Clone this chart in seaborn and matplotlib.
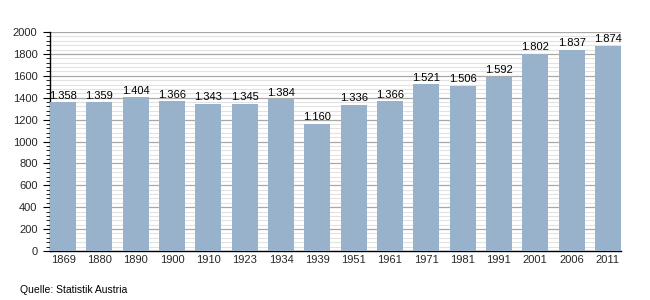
import matplotlib
matplotlib.use("Agg")
import matplotlib.pyplot as plt
import seaborn as sns
import pandas as pd
from matplotlib.ticker import MultipleLocator

years = ["1869", "1880", "1890", "1900", "1910", "1923", "1934", "1939",
         "1951", "1961", "1971", "1981", "1991", "2001", "2006", "2011"]
population = [1358, 1359, 1404, 1366, 1343, 1345, 1384, 1160,
              1336, 1366, 1521, 1506, 1592, 1802, 1837, 1874]
value_labels = ["1.358", "1.359", "1.404", "1.366", "1.343", "1.345", "1.384", "1.160",
                "1.336", "1.366", "1.521", "1.506", "1.592", "1.802", "1.837", "1.874"]

df = pd.DataFrame({"year": years, "pop": population})

sns.set_theme(style="white")
plt.rcParams["font.family"] = ["Liberation Sans", "DejaVu Sans"]

fig = plt.figure(figsize=(6.5, 3.0), dpi=100)
ax = fig.add_axes([50/650, 49/300, 571/650, 219/300])

sns.barplot(data=df, x="year", y="pop", color="#98b2cb", saturation=1,
            width=0.72, ax=ax, zorder=3, linewidth=0, edgecolor="none")

ax.set_xlim(-0.36, len(years) - 1 + 0.36)
ax.set_ylim(0, 2000)
ax.yaxis.set_major_locator(MultipleLocator(200))
ax.yaxis.set_minor_locator(MultipleLocator(40))
ax.grid(axis="y", which="major", color="#a8a8a8", linewidth=0.9, zorder=0)
ax.grid(axis="y", which="minor", color="#e2e2e2", linewidth=0.8, zorder=0)
ax.set_axisbelow(True)

for s in ["top", "right"]:
    ax.spines[s].set_visible(False)
for s in ["left", "bottom"]:
    ax.spines[s].set_color("black")
    ax.spines[s].set_linewidth(1.0)

ax.tick_params(axis="y", which="major", length=5, width=0.8, color="black",
               labelsize=8, left=True, pad=4)
ax.tick_params(axis="y", which="minor", length=3, width=0.6, color="black", left=True)
ax.tick_params(axis="x", length=0, labelsize=8, pad=3)
ax.set_xlabel("")
ax.set_ylabel("")

for i, (v, lab) in enumerate(zip(population, value_labels)):
    ax.text(i, v + 15, lab, ha="center", va="bottom", fontsize=8, color="black")

fig.text(20/650, 1 - 290/300, "Quelle: Statistik Austria", fontsize=7.5,
         ha="left", va="center", color="black")

fig.savefig("out.png", dpi=100)
